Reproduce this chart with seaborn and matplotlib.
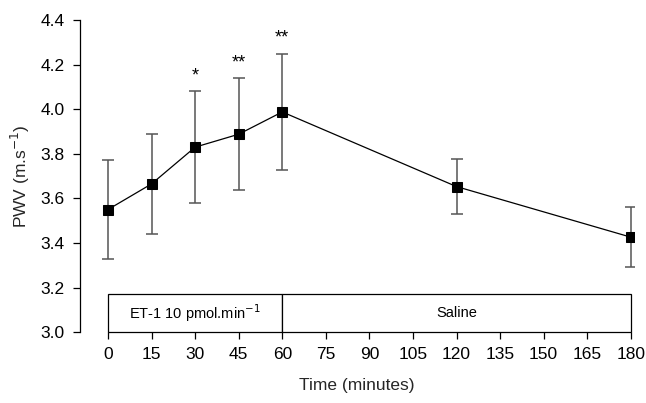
"""PWV over time during ET-1 infusion and saline washout."""

import matplotlib.pyplot as plt
import pandas as pd
import seaborn as sns
from matplotlib.patches import Rectangle

time_min = [0, 15, 30, 45, 60, 120, 180]
pwv_mean = [3.55, 3.665, 3.83, 3.888, 3.988, 3.653, 3.426]
pwv_err = [0.222, 0.226, 0.25, 0.252, 0.262, 0.122, 0.136]
signif = ["", "", "*", "**", "**", "", ""]

x_ticks = list(range(0, 181, 15))
y_ticks = [3.0, 3.2, 3.4, 3.6, 3.8, 4.0, 4.2, 4.4]

phases = [("ET-1 10 pmol.min$^{-1}$", 0, 60), ("Saline", 60, 180)]
phase_top = 3.17

INK = "#000000"
ERR = "#555555"

sns.set_theme(style="white", rc={
    "axes.edgecolor": INK,
    "axes.linewidth": 0.9,
    "xtick.color": INK,
    "ytick.color": INK,
    "xtick.major.size": 5,
    "ytick.major.size": 5,
    "xtick.major.width": 0.9,
    "ytick.major.width": 0.9,
    "xtick.bottom": True,
    "ytick.left": True,
})
plt.rcParams["font.family"] = ["Liberation Sans", "DejaVu Sans"]

df = pd.DataFrame({"time": time_min, "pwv": pwv_mean, "err": pwv_err})

fig = plt.figure(figsize=(6.46, 4.03), dpi=100)
ax = fig.add_axes([0.124, 0.176, 0.857, 0.774])

ax.errorbar(df["time"], df["pwv"], yerr=df["err"], fmt="none",
            ecolor=ERR, elinewidth=1.1, capsize=4, capthick=1.1, zorder=2)
sns.lineplot(data=df, x="time", y="pwv", ax=ax, color=INK, linewidth=0.9,
             marker="s", markersize=7, markeredgecolor=INK,
             markerfacecolor=INK, zorder=3)

for t, m, e, s in zip(time_min, pwv_mean, pwv_err, signif):
    if s:
        ax.annotate(s, (t, m + e), xytext=(0, 5), textcoords="offset points",
                    ha="center", va="bottom", fontsize=13, color=INK)

for label, start, end in phases:
    ax.add_patch(Rectangle((start, 3.0), end - start, phase_top - 3.0,
                           facecolor="white", edgecolor=INK, linewidth=0.9,
                           zorder=1, clip_on=False))
    ax.text(start + (end - start) / 2, 3.0 + (phase_top - 3.0) / 2, label,
            ha="center", va="center", fontsize=10.5, color=INK)

ax.set_xlim(-9.6, 181)
ax.set_ylim(3.0, 4.4)
ax.set_xticks(x_ticks)
ax.set_yticks(y_ticks)
ax.set_yticklabels([f"{v:.1f}" for v in y_ticks])
ax.tick_params(axis="both", labelsize=12.5, pad=6)
ax.set_xlabel("Time (minutes)", fontsize=12.5, labelpad=11)
ax.set_ylabel("PWV (m.s$^{-1}$)", fontsize=12.5, labelpad=6)

ax.spines["top"].set_visible(False)
ax.spines["right"].set_visible(False)
ax.spines["bottom"].set_visible(False)
ax.spines["left"].set_bounds(3.0, 4.4)

fig.savefig("out.png", dpi=100, facecolor="white")
